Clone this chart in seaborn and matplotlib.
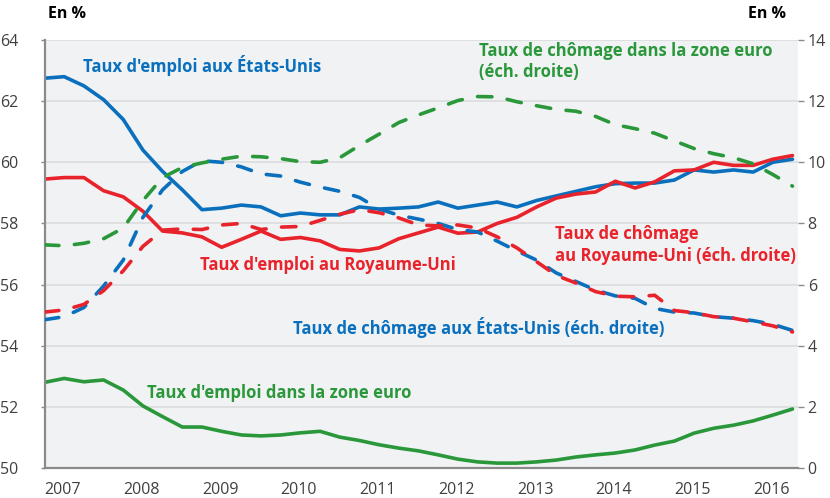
import numpy as np
import pandas as pd
import seaborn as sns
import matplotlib.pyplot as plt

# quarterly data, 2007Q1 -> 2016Q3
dates = [2007 + 0.25 * i for i in range(39)]

# employment rates (left axis, %)
us_emploi = [62.75, 62.8, 62.5, 62.05, 61.4, 60.4, 59.7, 59.1, 58.45, 58.5,
             58.6, 58.54, 58.25, 58.34, 58.28, 58.28, 58.54, 58.47, 58.5, 58.54,
             58.7, 58.5, 58.6, 58.7, 58.54, 58.75, 58.9, 59.05, 59.2, 59.3,
             59.32, 59.32, 59.42, 59.75, 59.68, 59.75, 59.68, 60.0, 60.1]
uk_emploi = [59.45, 59.5, 59.5, 59.07, 58.87, 58.4, 57.75, 57.69, 57.56, 57.22,
             57.48, 57.75, 57.48, 57.54, 57.43, 57.15, 57.1, 57.2, 57.5, 57.69,
             57.88, 57.68, 57.72, 58.0, 58.2, 58.54, 58.83, 58.96, 59.03, 59.38,
             59.16, 59.36, 59.72, 59.75, 60.0, 59.9, 59.9, 60.1, 60.22]
ze_emploi = [52.8, 52.93, 52.82, 52.88, 52.55, 52.03, 51.68, 51.34, 51.34, 51.2,
             51.08, 51.05, 51.08, 51.15, 51.2, 51.01, 50.9, 50.76, 50.65, 50.56,
             50.43, 50.29, 50.2, 50.16, 50.16, 50.2, 50.26, 50.36, 50.43, 50.49,
             50.59, 50.75, 50.88, 51.14, 51.3, 51.4, 51.54, 51.73, 51.93]

# unemployment rates (right axis, %)
us_chomage = [4.85, 4.95, 5.25, 5.95, 6.8, 8.2, 9.1, 9.7, 10.05, 10.0,
              9.85, 9.62, 9.55, 9.35, 9.19, 9.05, 8.85, 8.47, 8.27, 8.14,
              8.0, 7.8, 7.72, 7.42, 7.1, 6.8, 6.38, 6.1, 5.82, 5.63,
              5.55, 5.22, 5.1, 5.07, 4.95, 4.9, 4.82, 4.7, 4.5]
uk_chomage = [5.1, 5.17, 5.35, 5.8, 6.45, 7.25, 7.78, 7.82, 7.8, 7.95,
              8.0, 7.8, 7.88, 7.9, 8.1, 8.3, 8.45, 8.35, 8.18, 7.95,
              7.92, 7.95, 7.85, 7.56, 7.2, 6.75, 6.3, 6.05, 5.77, 5.62,
              5.6, 5.65, 5.15, 5.08, 4.95, 4.9, 4.78, 4.65, 4.45]
ze_chomage = [7.3, 7.27, 7.35, 7.5, 7.85, 8.75, 9.5, 9.83, 9.98, 10.1,
              10.2, 10.18, 10.12, 10.02, 10.0, 10.15, 10.55, 10.92, 11.3, 11.55,
              11.78, 12.02, 12.15, 12.14, 11.98, 11.85, 11.73, 11.67, 11.5, 11.23,
              11.1, 10.95, 10.7, 10.45, 10.28, 10.15, 9.95, 9.6, 9.22]

years = list(range(2007, 2017))
left_ticks = list(range(50, 65, 2))
right_ticks = list(range(0, 15, 2))

df = pd.DataFrame({
    'date': dates,
    'us_emploi': us_emploi, 'uk_emploi': uk_emploi, 'ze_emploi': ze_emploi,
    'us_chomage': us_chomage, 'uk_chomage': uk_chomage, 'ze_chomage': ze_chomage,
})

BLUE = '#0a70bd'
RED = '#e8232b'
GREEN = '#2a983a'
TICK = '#404040'
SPINE = '#8a8a8a'

sns.set_style('white')
plt.rcParams['font.family'] = ['Open Sans', 'DejaVu Sans']

fig = plt.figure(figsize=(8.3, 4.98), dpi=100)
ax = fig.add_axes([44.5 / 830, 1 - 468 / 498, (798 - 44.5) / 830, 428 / 498])
ax.set_facecolor('#f1f2f4')

lw = 2.6
for col, c in [('us_emploi', BLUE), ('uk_emploi', RED), ('ze_emploi', GREEN)]:
    sns.lineplot(data=df, x='date', y=col, ax=ax, color=c, lw=lw)

ax2 = ax.twinx()
dash = (0, (4.0, 4.3))
for col, c in [('us_chomage', BLUE), ('uk_chomage', RED), ('ze_chomage', GREEN)]:
    sns.lineplot(data=df, x='date', y=col, ax=ax2, color=c, lw=lw,
                 linestyle=dash, dash_capstyle='round')

ax.set_xlim(2007, 2016.57)
ax.set_ylim(50, 64)
ax2.set_ylim(0, 14)
ax.set_yticks(left_ticks)
ax2.set_yticks(right_ticks)
ax.set_xticks(years)
ax.set_xticklabels([str(y) for y in years], ha='left')
for a in (ax, ax2):
    a.set_xlabel('')
    a.set_ylabel('')

ax.grid(axis='y', color='#dcdde0', lw=1.3)
ax.set_axisbelow(True)

for s in ['top', 'right']:
    ax.spines[s].set_visible(False)
for s in ax2.spines:
    ax2.spines[s].set_visible(False)
ax.spines['left'].set_color(SPINE)
ax.spines['bottom'].set_color(SPINE)
ax.spines['left'].set_linewidth(1.6)
ax.spines['bottom'].set_linewidth(1.6)

ax.tick_params(axis='x', colors=SPINE, labelcolor=TICK, labelsize=11.5,
               length=4, width=1, direction='out', pad=6)
ax.tick_params(axis='y', colors=SPINE, labelcolor=TICK, labelsize=11.5,
               length=3, width=1, pad=16)
ax2.tick_params(axis='y', colors=SPINE, labelcolor=TICK, labelsize=11.5,
                length=4, width=1, pad=3)

fig.text(48 / 830, 1 - 14 / 498, 'En %', fontsize=11.5, fontweight='bold',
         va='center', ha='left', color='black')
fig.text(786 / 830, 1 - 14 / 498, 'En %', fontsize=11.5, fontweight='bold',
         va='center', ha='right', color='black')

kw = dict(fontsize=12, fontweight='bold', va='center', ha='left')
ax.text(2007.49, 63.15, "Taux d'emploi aux États-Unis", color=BLUE, **kw)
ax.text(2012.52, 63.3, "Taux de chômage dans la zone euro\n(éch. droite)",
        color=GREEN, linespacing=1.25, **kw)
ax.text(2008.97, 56.64, "Taux d'emploi au Royaume-Uni", color=RED, **kw)
ax.text(2013.48, 57.3, "Taux de chômage\nau Royaume-Uni (éch. droite)",
        color=RED, linespacing=1.25, **kw)
ax.text(2010.15, 54.58, "Taux de chômage aux États-Unis (éch. droite)",
        color=BLUE, **kw)
ax.text(2008.30, 52.45, "Taux d'emploi dans la zone euro", color=GREEN, **kw)

fig.savefig('out.png', dpi=100)
